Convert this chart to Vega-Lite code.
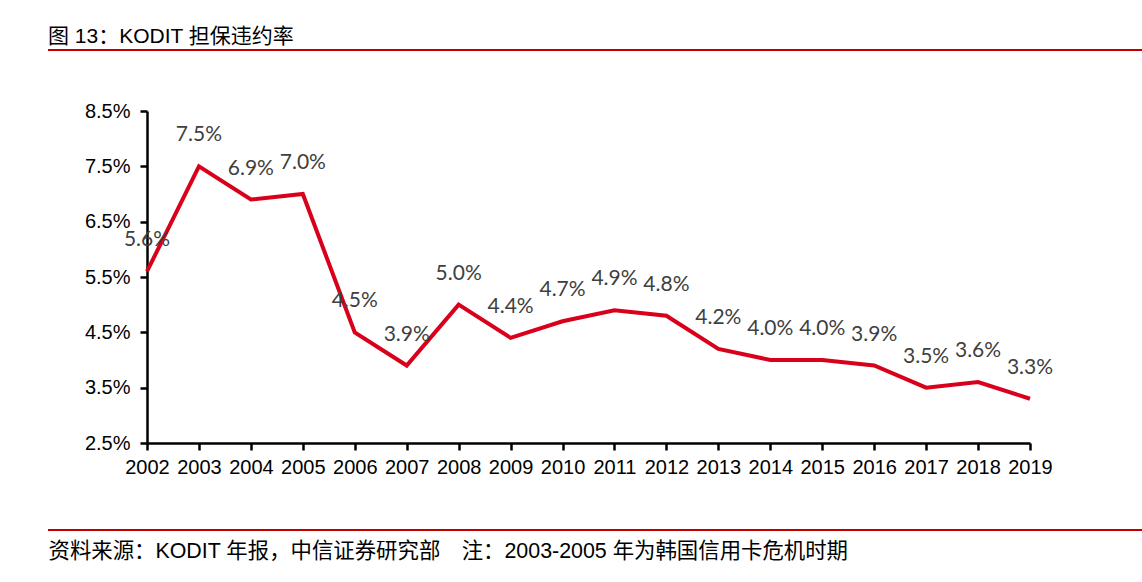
{
  "$schema": "https://vega.github.io/schema/vega-lite/v6.json",
  "width": 883,
  "height": 332,
  "autosize": {"type": "none"},
  "padding": {"left": 147, "top": 111, "right": 112, "bottom": 139},
  "background": "white",
  "title": {
    "text": "图 13：KODIT 担保违约率",
    "anchor": "start",
    "frame": "group",
    "dx": -99,
    "offset": 0,
    "dy": 15,
    "baseline": "alphabetic",
    "font": "Liberation Sans, Noto Sans CJK SC",
    "fontSize": 21,
    "fontWeight": "normal",
    "color": "#000000"
  },
  "config": {
    "view": {"stroke": null},
    "font": "Liberation Sans, Noto Sans CJK SC"
  },
  "data": {
    "values": [
      {"year": "2002", "rate": 5.6},
      {"year": "2003", "rate": 7.5},
      {"year": "2004", "rate": 6.9},
      {"year": "2005", "rate": 7.0},
      {"year": "2006", "rate": 4.5},
      {"year": "2007", "rate": 3.9},
      {"year": "2008", "rate": 5.0},
      {"year": "2009", "rate": 4.4},
      {"year": "2010", "rate": 4.7},
      {"year": "2011", "rate": 4.9},
      {"year": "2012", "rate": 4.8},
      {"year": "2013", "rate": 4.2},
      {"year": "2014", "rate": 4.0},
      {"year": "2015", "rate": 4.0},
      {"year": "2016", "rate": 3.9},
      {"year": "2017", "rate": 3.5},
      {"year": "2018", "rate": 3.6},
      {"year": "2019", "rate": 3.3}
    ]
  },
  "encoding": {
    "x": {
      "field": "year",
      "type": "ordinal",
      "scale": {"type": "point", "padding": 0},
      "axis": {
        "title": "资料来源：KODIT 年报，中信证券研究部　注：2003-2005 年为韩国信用卡危机时期",
        "titleAnchor": "start",
        "titleAlign": "left",
        "titleX": -99,
        "titleY": 114,
        "titleBaseline": "alphabetic",
        "titleFont": "Liberation Sans, Noto Sans CJK SC",
        "titleFontSize": 21.4,
        "titleFontWeight": "normal",
        "titleColor": "#000000",
        "labelAngle": 0,
        "labelFont": "Liberation Sans",
        "labelFontSize": 20,
        "labelColor": "#000000",
        "labelPadding": 7,
        "labelOverlap": false,
        "domainColor": "#000000",
        "domainWidth": 2.5,
        "tickColor": "#000000",
        "tickWidth": 2.5,
        "tickSize": 7,
        "grid": false
      }
    },
    "y": {
      "field": "rate",
      "type": "quantitative",
      "scale": {"domain": [2.5, 8.5], "nice": false, "zero": false},
      "axis": {
        "title": null,
        "values": [2.5, 3.5, 4.5, 5.5, 6.5, 7.5, 8.5],
        "labelExpr": "format(datum.value, '.1f') + '%'",
        "labelFont": "Liberation Sans",
        "labelFontSize": 20,
        "labelColor": "#000000",
        "labelPadding": 10,
        "domainColor": "#000000",
        "domainWidth": 2.5,
        "tickColor": "#000000",
        "tickWidth": 2.5,
        "tickSize": 7,
        "grid": false
      }
    }
  },
  "layer": [
    {
      "mark": {"type": "line", "color": "#d9001b", "strokeWidth": 4, "clip": false}
    },
    {
      "mark": {"type": "text", "dy": -31, "font": "Lato", "fontSize": 21, "color": "#404040"},
      "encoding": {
        "text": {"field": "label", "type": "nominal"}
      },
      "transform": [
        {"calculate": "format(datum.rate, '.1f') + '%'", "as": "label"}
      ]
    },
    {
      "data": {"values": [{}]},
      "mark": {"type": "rule", "color": "#c00000", "strokeWidth": 2, "clip": false},
      "encoding": {
        "x": {"value": -99},
        "x2": {"value": 995},
        "y": {"value": -61}
      }
    },
    {
      "data": {"values": [{}]},
      "mark": {"type": "rule", "color": "#c00000", "strokeWidth": 2, "clip": false},
      "encoding": {
        "x": {"value": -99},
        "x2": {"value": 995},
        "y": {"value": 419}
      }
    }
  ]
}
